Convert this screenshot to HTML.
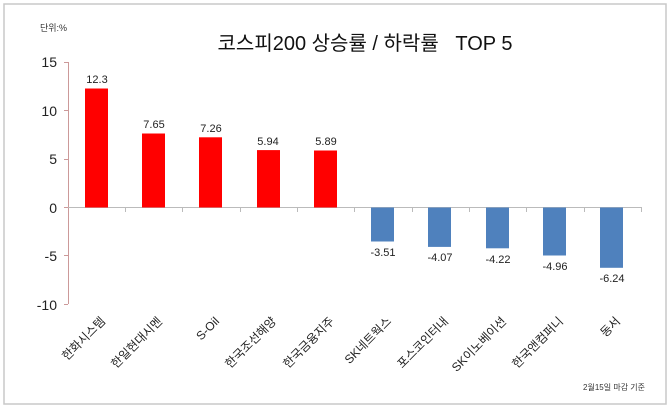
<!DOCTYPE html>
<html><head><meta charset="utf-8"><style>
html,body{margin:0;padding:0;background:#fff}
svg{display:block;font-family:"Liberation Sans","Noto Sans CJK KR",sans-serif}
</style></head><body>
<svg width="670" height="409" viewBox="0 0 670 409">
<rect x="4" y="4" width="662" height="400" fill="#fff" stroke="#c8c8c8" stroke-width="1.5"/>
<text x="365" y="50" font-size="20" text-anchor="middle" fill="#111" style="white-space:pre">코스피200 상승률 / 하락률   TOP 5</text>
<text x="40" y="31" font-size="9" fill="#333">단위:%</text>
<g font-size="14" fill="#222" text-anchor="end">
<text x="57" y="67">15</text><text x="57" y="116">10</text><text x="57" y="164">5</text>
<text x="57" y="213">0</text><text x="57" y="261">-5</text><text x="57" y="310">-10</text>
</g>
<g stroke="#c99" stroke-width="1">
<line x1="68.5" y1="62" x2="68.5" y2="304"/>
<line x1="64" y1="62.5" x2="68" y2="62.5"/><line x1="64" y1="110.5" x2="68" y2="110.5"/>
<line x1="64" y1="159.5" x2="68" y2="159.5"/><line x1="64" y1="207.5" x2="68" y2="207.5"/>
<line x1="64" y1="255.5" x2="68" y2="255.5"/><line x1="64" y1="304.5" x2="68" y2="304.5"/>
</g>
<line x1="68" y1="207.5" x2="641" y2="207.5" stroke="#bbb"/>
<g stroke="#bbb">
<line x1="125.5" y1="207" x2="125.5" y2="212"/><line x1="182.5" y1="207" x2="182.5" y2="212"/>
<line x1="240.5" y1="207" x2="240.5" y2="212"/><line x1="297.5" y1="207" x2="297.5" y2="212"/>
<line x1="354.5" y1="207" x2="354.5" y2="212"/><line x1="412.5" y1="207" x2="412.5" y2="212"/>
<line x1="469.5" y1="207" x2="469.5" y2="212"/><line x1="526.5" y1="207" x2="526.5" y2="212"/>
<line x1="584.5" y1="207" x2="584.5" y2="212"/><line x1="641.5" y1="207" x2="641.5" y2="212"/>
</g>
<g fill="#ff0000">
<rect x="85" y="88.5" width="23" height="119"/>
<rect x="142" y="133.5" width="23" height="74"/>
<rect x="199" y="137.3" width="23" height="70.2"/>
<rect x="257" y="150.1" width="23" height="57.4"/>
<rect x="314" y="150.5" width="23" height="57"/>
</g>
<g fill="#4f81bd">
<rect x="371" y="207.5" width="23" height="34"/>
<rect x="428" y="207.5" width="23" height="39.4"/>
<rect x="486" y="207.5" width="23" height="40.8"/>
<rect x="543" y="207.5" width="23" height="48"/>
<rect x="600" y="207.5" width="23" height="60.3"/>
</g>
<g font-size="11" fill="#222" text-anchor="middle">
<text x="97" y="83">12.3</text><text x="154" y="128">7.65</text><text x="211" y="132">7.26</text>
<text x="268" y="145">5.94</text><text x="326" y="145">5.89</text>
<text x="383" y="256">-3.51</text><text x="440" y="261">-4.07</text><text x="498" y="263">-4.22</text>
<text x="555" y="270">-4.96</text><text x="612" y="282">-6.24</text>
</g>
<g font-size="12" fill="#222" text-anchor="end">
<text transform="translate(106,322) rotate(-45)">한화시스템</text>
<text transform="translate(163,322) rotate(-45)">한일현대시멘</text>
<text transform="translate(220,322) rotate(-45)">S-Oil</text>
<text transform="translate(277,322) rotate(-45)">한국조선해양</text>
<text transform="translate(335,322) rotate(-45)">한국금융지주</text>
<text transform="translate(392,322) rotate(-45)">SK네트웍스</text>
<text transform="translate(449,322) rotate(-45)">포스코인터내</text>
<text transform="translate(507,322) rotate(-45)">SK이노베이션</text>
<text transform="translate(564,322) rotate(-45)">한국앤컴퍼니</text>
<text transform="translate(621,322) rotate(-45)">동서</text>
</g>
<text x="645" y="390" font-size="8" fill="#333" text-anchor="end">2월15일 마감 기준</text>
</svg>
</body></html>
